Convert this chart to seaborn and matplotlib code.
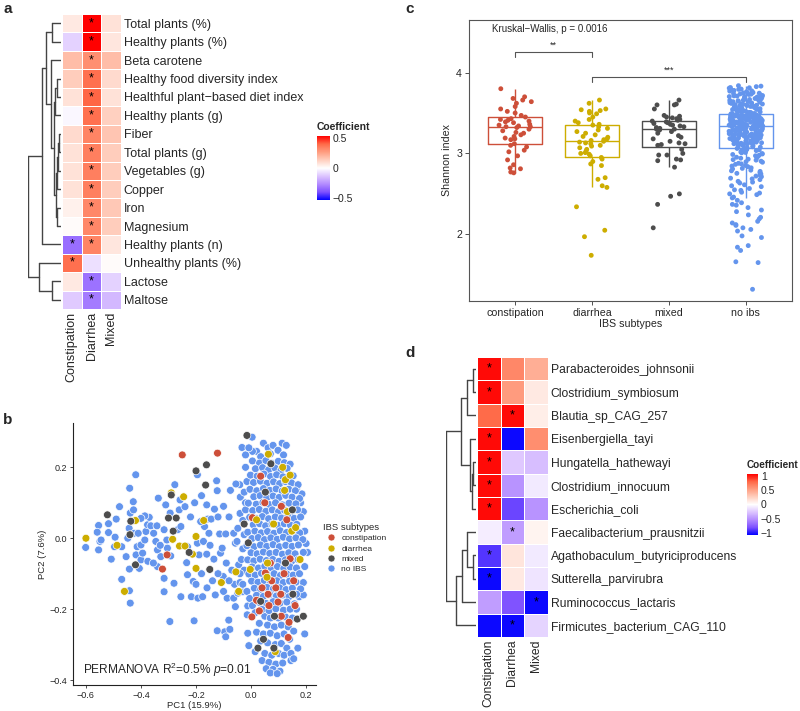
import numpy as np
import pandas as pd
import matplotlib
matplotlib.use("Agg")
import matplotlib.pyplot as plt
import matplotlib.cm as cm
from matplotlib.colors import LinearSegmentedColormap, Normalize
import seaborn as sns

# ---------------- data: panel a (diet heatmap) ----------------
subtype_cols = ["Constipation", "Diarrhea", "Mixed"]
diet_rows = ["Total plants (%)", "Healthy plants (%)", "Beta carotene",
             "Healthy food diversity index", "Healthful plant\u2212based diet index",
             "Healthy plants (g)", "Fiber", "Total plants (g)", "Vegetables (g)",
             "Copper", "Iron", "Magnesium", "Healthy plants (n)",
             "Unhealthy plants (%)", "Lactose", "Maltose"]
diet_constipation = [0.06, -0.10, 0.18, 0.14, 0.08, -0.02, 0.10, 0.08, 0.08, 0.08, 0.04, 0.01, -0.33, 0.38, 0.06, -0.12]
diet_diarrhea = [0.53, 0.53, 0.30, 0.38, 0.40, 0.38, 0.33, 0.34, 0.34, 0.34, 0.32, 0.32, 0.33, -0.07, -0.32, -0.30]
diet_mixed = [0.08, 0.07, 0.18, 0.10, 0.08, 0.13, 0.16, 0.14, 0.14, 0.14, 0.15, 0.14, 0.07, 0.01, -0.10, -0.16]
diet_stars = [["", "*", ""]] * 12 + [["*", "*", ""], ["*", "", ""], ["", "*", ""], ["", "*", ""]]
# merges: (child, child, height); leaves 0..15 top to bottom
diet_tree = [(0, 1, 9), (3, 4, 4), (17, 5, 6), (6, 7, 2.5), (19, 8, 3.5), (20, 9, 4.5),
             (10, 11, 4), (21, 22, 5.5), (18, 23, 7.5), (2, 24, 10), (16, 25, 15),
             (26, 12, 19), (14, 15, 9), (13, 28, 22), (27, 29, 33)]

# ---------------- data: panel d (species heatmap) ----------------
species_rows = ["Parabacteroides_johnsonii", "Clostridium_symbiosum", "Blautia_sp_CAG_257",
                "Eisenbergiella_tayi", "Hungatella_hathewayi", "Clostridium_innocuum",
                "Escherichia_coli", "Faecalibacterium_prausnitzii",
                "Agathobaculum_butyriciproducens", "Sutterella_parvirubra",
                "Ruminococcus_lactaris", "Firmicutes_bacterium_CAG_110"]
sp_constipation = [1.05, 1.05, 0.80, 1.05, 1.05, 1.05, 1.05, -0.08, -0.90, -1.05, -0.45, -1.05]
sp_diarrhea = [0.65, 0.55, 1.05, -1.05, -0.25, -0.50, -0.85, -0.45, 0.15, 0.12, -0.80, -1.05]
sp_mixed = [0.45, 0.12, 0.10, 0.62, -0.30, -0.10, -0.50, 0.06, -0.10, -0.12, -1.05, -0.20]
sp_stars = [["*", "", ""], ["*", "", ""], ["", "*", ""], ["*", "", ""], ["*", "", ""],
            ["*", "", ""], ["*", "", ""], ["", "*", ""], ["*", "", ""], ["*", "", ""],
            ["", "", "*"], ["", "*", ""]]
species_tree = [(0, 1, 3.5), (12, 2, 9), (4, 5, 3), (14, 6, 4.5), (3, 15, 6.5),
                (13, 16, 15.5), (8, 9, 3.5), (7, 18, 9), (19, 10, 14.5), (20, 11, 20.5),
                (17, 21, 30)]

# ---------------- data: panel b (PCoA) ----------------
pcoa_groups = ["constipation", "diarrhea", "mixed", "no IBS"]
pcoa_noibs = [
    (-0.601, -0.026), (-0.554, 0.036), (-0.559, 0.017), (-0.549, -0.009), (-0.554, -0.033), (-0.545, -0.005),
    (-0.518, 0.016), (-0.518, 0.041), (-0.508, -0.059), (-0.496, -0.024), (-0.494, 0.003), (-0.490, 0.054),
    (-0.478, 0.089), (-0.470, -0.024), (-0.470, -0.116), (-0.454, -0.052), (-0.448, 0.000), (-0.443, 0.028),
    (-0.441, 0.141), (-0.439, 0.071), (-0.427, 0.080), (-0.428, 0.103), (-0.419, 0.179), (-0.424, 0.014),
    (-0.418, -0.047), (-0.414, -0.024), (-0.400, -0.019), (-0.400, -0.061), (-0.394, -0.042), (-0.406, -0.085),
    (-0.439, -0.183), (-0.442, -0.148), (-0.442, -0.087), (-0.386, -0.005), (-0.382, 0.019), (-0.376, 0.038),
    (-0.370, 0.059), (-0.364, 0.035), (-0.386, 0.063), (-0.400, 0.056), (-0.410, 0.014), (-0.354, 0.014),
    (-0.346, -0.009), (-0.340, -0.033), (-0.342, 0.035), (-0.337, 0.113), (-0.316, 0.024), (-0.310, 0.094),
    (-0.306, -0.005), (-0.304, -0.028), (-0.292, -0.050), (-0.328, -0.052), (-0.340, -0.080), (-0.316, -0.113),
    (-0.316, -0.151), (-0.294, 0.071), (-0.277, 0.151), (-0.267, 0.024), (-0.255, 0.033), (-0.261, 0.080),
    (-0.258, 0.108), (-0.240, 0.089), (-0.234, -0.069), (-0.231, -0.024), (-0.231, -0.103), (-0.217, -0.165),
    (-0.210, -0.122), (-0.255, -0.165), (-0.280, -0.127), (-0.295, -0.235), (-0.207, -0.233), (-0.193, -0.169),
    (-0.176, -0.165), (-0.195, -0.014), (-0.189, -0.047), (-0.173, -0.009), (-0.169, 0.033), (-0.183, 0.047),
    (-0.161, 0.094), (-0.157, 0.054), (-0.153, 0.014), (-0.149, -0.020), (-0.161, -0.045), (-0.133, 0.082),
    (-0.145, 0.054), (-0.135, -0.059), (-0.125, 0.162), (-0.123, 0.134), (-0.114, 0.012), (-0.111, -0.042),
    (-0.105, -0.028), (-0.101, -0.108), (-0.092, 0.012), (-0.075, 0.135), (-0.063, 0.014), (-0.057, -0.014),
    (-0.051, -0.009), (-0.048, 0.028), (-0.041, 0.151), (-0.039, 0.116), (-0.033, 0.256), (-0.055, 0.153),
    (-0.195, 0.179), (-0.087, -0.169), (-0.081, -0.231), (-0.096, -0.264), (-0.123, -0.261), (-0.077, -0.257),
    (-0.092, -0.278), (-0.063, -0.169), (-0.048, -0.155), (-0.057, -0.193), (-0.030, -0.151), (-0.012, -0.191),
    (-0.012, -0.268), (-0.008, -0.303), (-0.014, -0.216), (0.004, 0.285),
    (-0.090, -0.070), (-0.070, -0.090), (-0.045, -0.075), (-0.060, -0.130), (-0.040, -0.125), (-0.080, -0.120),
    (-0.100, -0.150), (-0.120, -0.100), (-0.140, -0.120), (-0.160, -0.140), (-0.130, -0.160), (-0.180, -0.100),
    (-0.200, -0.130), (-0.205, 0.100), (-0.180, 0.120), (-0.220, 0.060), (-0.120, 0.060), (-0.100, 0.090),
    (-0.080, 0.060), (-0.040, 0.070), (-0.020, 0.100), (-0.375, -0.065), (-0.355, -0.070), (-0.330, -0.020),
    # around the dense cluster
    (0.020, 0.245), (0.045, 0.268), (0.062, 0.255), (0.080, 0.262), (0.098, 0.248), (0.113, 0.268),
    (0.128, 0.262), (0.118, 0.235), (0.070, 0.238), (0.035, 0.230), (0.005, 0.245), (-0.020, 0.200),
    (-0.015, 0.160), (-0.025, 0.130), (-0.020, 0.080), (-0.030, 0.050), (-0.025, 0.010), (-0.030, -0.030),
    (-0.035, -0.060), (-0.025, -0.090), (-0.040, -0.100), (-0.030, -0.130), (-0.015, -0.150), (-0.005, -0.170),
    (0.005, -0.190), (0.015, -0.210), (-0.020, 0.235), (-0.008, 0.255),
    (0.165, 0.140), (0.185, 0.125), (0.190, 0.075), (0.180, 0.100), (0.195, 0.020), (0.200, -0.015),
    (0.205, -0.040), (0.195, -0.080), (0.190, -0.125), (0.175, -0.165), (0.165, -0.200), (0.190, -0.160),
    (0.050, -0.220), (0.070, -0.225), (0.100, -0.225), (0.125, -0.222), (0.150, -0.225), (0.030, -0.240),
    (0.060, -0.245), (0.085, -0.250), (0.110, -0.245), (0.135, -0.250), (0.155, -0.262), (0.020, -0.265),
    (0.045, -0.270), (0.070, -0.268), (0.095, -0.275), (0.120, -0.270), (0.140, -0.285), (0.195, -0.270),
    (0.035, -0.290), (0.060, -0.295), (0.088, -0.300), (0.110, -0.297), (0.130, -0.310), (0.015, -0.320),
    (0.050, -0.325), (0.075, -0.330), (0.100, -0.325), (0.120, -0.330), (0.145, -0.325), (0.040, -0.345),
    (0.065, -0.350), (0.090, -0.355), (0.115, -0.352), (0.145, -0.345), (0.055, -0.368), (0.080, -0.370),
    (0.105, -0.375), (0.070, -0.380), (0.095, -0.382), (0.155, -0.340), (0.170, -0.310),
    # dense cluster
    (0.005, 0.218), (0.031, 0.212), (0.054, 0.219), (0.077, 0.211), (0.099, 0.217), (0.121, 0.213), (0.142, 0.209),
    (0.016, 0.196), (0.042, 0.199), (0.064, 0.193), (0.087, 0.198), (0.109, 0.192), (0.131, 0.197),
    (-0.002, 0.178), (0.022, 0.175), (0.047, 0.181), (0.071, 0.174), (0.093, 0.179), (0.116, 0.173), (0.153, 0.176),
    (0.009, 0.157), (0.034, 0.161), (0.058, 0.155), (0.082, 0.159), (0.104, 0.154), (0.125, 0.160), (0.147, 0.156), (0.171, 0.151),
    (-0.004, 0.138), (0.021, 0.134), (0.045, 0.140), (0.068, 0.135), (0.091, 0.139), (0.113, 0.133), (0.137, 0.138), (0.161, 0.134),
    (0.010, 0.117), (0.033, 0.120), (0.057, 0.114), (0.080, 0.119), (0.102, 0.115), (0.126, 0.121), (0.149, 0.116), (0.176, 0.112),
    (-0.010, 0.099), (0.019, 0.096), (0.043, 0.101), (0.066, 0.095), (0.089, 0.100), (0.114, 0.094), (0.138, 0.099), (0.163, 0.097),
    (0.006, 0.078), (0.030, 0.081), (0.054, 0.076), (0.077, 0.080), (0.100, 0.075), (0.122, 0.079), (0.145, 0.074), (0.169, 0.080),
    (-0.005, 0.059), (0.018, 0.056), (0.041, 0.061), (0.064, 0.055), (0.088, 0.060), (0.111, 0.057), (0.134, 0.062), (0.157, 0.056), (0.180, 0.060),
    (0.008, 0.038), (0.031, 0.041), (0.053, 0.035), (0.076, 0.040), (0.098, 0.036), (0.121, 0.041), (0.143, 0.037), (0.166, 0.039),
    (-0.012, 0.017), (0.014, 0.020), (0.037, 0.015), (0.060, 0.019), (0.083, 0.014), (0.106, 0.021), (0.129, 0.016), (0.152, 0.019), (0.177, 0.015),
    (0.003, -0.001), (0.026, 0.002), (0.049, -0.004), (0.072, 0.001), (0.095, -0.003), (0.117, 0.003), (0.140, -0.002), (0.163, 0.001), (0.188, -0.004),
    (-0.015, -0.021), (0.011, -0.024), (0.034, -0.019), (0.057, -0.023), (0.080, -0.018), (0.103, -0.024), (0.126, -0.020), (0.149, -0.023), (0.172, -0.019),
    (0.000, -0.041), (0.022, -0.044), (0.045, -0.039), (0.068, -0.043), (0.091, -0.040), (0.114, -0.045), (0.137, -0.041), (0.160, -0.044), (0.190, -0.040),
    (-0.012, -0.061), (0.010, -0.064), (0.033, -0.059), (0.056, -0.063), (0.079, -0.060), (0.102, -0.065), (0.125, -0.061), (0.148, -0.064), (0.171, -0.060),
    (0.004, -0.081), (0.027, -0.084), (0.050, -0.079), (0.073, -0.083), (0.096, -0.080), (0.119, -0.085), (0.142, -0.081), (0.165, -0.084),
    (-0.008, -0.101), (0.015, -0.104), (0.038, -0.099), (0.061, -0.103), (0.084, -0.100), (0.107, -0.105), (0.130, -0.101), (0.153, -0.104), (0.176, -0.100),
    (0.002, -0.121), (0.025, -0.124), (0.048, -0.119), (0.071, -0.123), (0.094, -0.120), (0.117, -0.125), (0.140, -0.121), (0.163, -0.124),
    (0.012, -0.141), (0.035, -0.144), (0.058, -0.139), (0.081, -0.143), (0.104, -0.140), (0.127, -0.145), (0.150, -0.141), (0.180, -0.143),
    (0.020, -0.161), (0.045, -0.164), (0.068, -0.159), (0.092, -0.163), (0.115, -0.160), (0.138, -0.165), (0.165, -0.158),
    (0.030, -0.181), (0.055, -0.184), (0.080, -0.179), (0.105, -0.183), (0.130, -0.180), (0.158, -0.185),
    (0.040, -0.201), (0.065, -0.204), (0.090, -0.199), (0.118, -0.203), (0.142, -0.200),
]
pcoa_constipation = [(-0.250, 0.235), (-0.122, 0.240), (0.035, 0.175), (0.005, 0.058), (0.050, 0.100),
                     (-0.322, -0.087), (-0.305, -0.047), (0.003, -0.222), (0.065, -0.190), (0.040, -0.140),
                     (0.098, -0.180), (0.138, -0.237), (0.135, -0.280), (0.052, -0.098), (0.075, -0.120),
                     (0.142, -0.058), (0.130, 0.052), (0.062, -0.158), (0.108, -0.158), (0.030, -0.205),
                     (0.020, -0.175), (0.090, -0.140), (0.120, -0.100), (0.155, -0.120), (0.110, 0.090),
                     (0.070, -0.070), (0.110, -0.220), (0.160, -0.190)]
pcoa_diarrhea = [(-0.600, 0.000), (-0.487, -0.020), (-0.460, -0.150), (-0.420, 0.050), (-0.290, 0.128),
                 (-0.245, 0.117), (-0.285, -0.003), (-0.260, -0.022), (-0.240, -0.022), (-0.213, -0.045),
                 (-0.200, -0.085), (-0.200, 0.005), (-0.172, 0.050), (-0.108, -0.125), (-0.055, -0.095),
                 (-0.045, -0.150), (-0.003, -0.088), (0.063, 0.237), (0.125, 0.165), (0.142, 0.178),
                 (0.132, 0.075), (0.122, 0.135), (0.148, 0.020), (0.162, 0.030), (0.178, -0.060),
                 (0.088, -0.320), (0.058, -0.110), (0.082, 0.040), (0.020, 0.052), (0.060, -0.070),
                 (0.115, 0.200)]
pcoa_mixed = [(-0.015, 0.290), (-0.162, 0.207), (-0.200, 0.190), (-0.165, 0.150), (-0.290, 0.122),
              (-0.522, 0.066), (-0.437, 0.048), (-0.440, 0.010), (-0.300, 0.057), (-0.272, 0.057),
              (-0.283, 0.020), (-0.225, -0.040), (-0.150, -0.088), (-0.420, -0.075), (-0.025, 0.040),
              (-0.010, -0.013), (0.072, 0.210), (0.052, 0.130), (0.150, 0.080), (0.125, -0.070),
              (0.152, -0.158), (0.168, -0.228), (0.190, -0.220), (0.085, -0.220), (0.083, -0.310),
              (0.045, -0.285), (0.025, -0.310), (0.035, -0.178)]

# ---------------- data: panel c (Shannon index) ----------------
shannon_order = ["constipation", "diarrhea", "mixed", "no ibs"]
shannon_constipation = [3.80, 3.70, 3.68, 3.66, 3.64, 3.62, 3.58, 3.55, 3.52, 3.50, 3.47, 3.45, 3.43, 3.42,
                        3.41, 3.40, 3.39, 3.38, 3.36, 3.35, 3.34, 3.33, 3.33, 3.32, 3.30, 3.28, 3.26, 3.25,
                        3.23, 3.21, 3.19, 3.18, 3.17, 3.12, 3.10, 3.08, 3.04, 3.02, 2.97, 2.92, 2.86, 2.82,
                        2.81, 2.77, 2.76]
shannon_diarrhea = [3.66, 3.62, 3.55, 3.54, 3.53, 3.52, 3.50, 3.49, 3.45, 3.42, 3.40, 3.38, 3.36, 3.35,
                    3.33, 3.31, 3.29, 3.27, 3.25, 3.23, 3.21, 3.20, 3.18, 3.17, 3.16, 3.15, 3.14, 3.13,
                    3.12, 3.10, 3.09, 3.07, 3.05, 3.03, 3.01, 3.00, 2.99, 2.97, 2.95, 2.93, 2.90, 2.87,
                    2.85, 2.70, 2.68, 2.60, 2.58, 2.34, 2.05, 1.97, 1.74]
shannon_mixed = [3.66, 3.61, 3.60, 3.60, 3.55, 3.47, 3.46, 3.45, 3.44, 3.43, 3.42, 3.41, 3.40, 3.39,
                 3.38, 3.37, 3.36, 3.35, 3.34, 3.33, 3.32, 3.31, 3.30, 3.30, 3.29, 3.27, 3.25, 3.22,
                 3.20, 3.18, 3.15, 3.13, 3.12, 3.11, 3.10, 3.05, 3.00, 2.98, 2.98, 2.93, 2.92, 2.91,
                 2.83, 2.50, 2.47, 2.37, 2.08]
shannon_noibs = [3.838, 3.826, 3.815, 3.807, 3.796, 3.788, 3.779, 3.771, 3.764, 3.757, 3.749, 3.742,
                 3.736, 3.729, 3.722, 3.716, 3.709, 3.703, 3.697, 3.691, 3.685, 3.679, 3.673, 3.667,
                 3.662, 3.656, 3.651, 3.645, 3.640, 3.634, 3.629, 3.624, 3.619, 3.613, 3.608, 3.603,
                 3.598, 3.593, 3.588, 3.583, 3.578, 3.573, 3.568, 3.563, 3.558, 3.553, 3.548, 3.543,
                 3.538, 3.533, 3.528, 3.524, 3.519, 3.514, 3.509, 3.504, 3.499, 3.494, 3.489, 3.484,
                 3.832, 3.812, 3.792, 3.774, 3.753, 3.733, 3.712, 3.694, 3.676, 3.658, 3.642, 3.627,
                 3.611, 3.596, 3.581, 3.566, 3.551, 3.536, 3.521, 3.507, 3.492, 3.745, 3.705, 3.665,
                 3.625, 3.585, 3.545, 3.505,
                 3.481, 3.478, 3.476, 3.473, 3.471, 3.468, 3.466, 3.463, 3.461, 3.458, 3.456, 3.453,
                 3.451, 3.448, 3.446, 3.443, 3.441, 3.438, 3.436, 3.433, 3.431, 3.428, 3.426, 3.423,
                 3.421, 3.418, 3.416, 3.413, 3.411, 3.408, 3.406, 3.403, 3.401, 3.398, 3.396, 3.393,
                 3.391, 3.388, 3.386, 3.383, 3.381, 3.378, 3.376, 3.373, 3.371, 3.368, 3.366, 3.363,
                 3.361, 3.358, 3.356, 3.353, 3.351, 3.348, 3.346, 3.343, 3.341, 3.338,
                 3.479, 3.469, 3.459, 3.449, 3.439, 3.429, 3.419, 3.409, 3.399, 3.389, 3.379, 3.369,
                 3.359, 3.349, 3.339, 3.474, 3.444, 3.414, 3.384, 3.354, 3.464, 3.434, 3.404, 3.374,
                 3.336, 3.332, 3.328, 3.324, 3.320, 3.316, 3.312, 3.308, 3.304, 3.300, 3.296, 3.292,
                 3.288, 3.284, 3.280, 3.276, 3.272, 3.268, 3.264, 3.260, 3.256, 3.252, 3.248, 3.244,
                 3.240, 3.236, 3.232, 3.228, 3.224, 3.220, 3.216, 3.212, 3.208, 3.204, 3.200, 3.196,
                 3.192, 3.188, 3.184, 3.180, 3.176, 3.172, 3.168, 3.164, 3.160, 3.156, 3.152, 3.148,
                 3.144, 3.140, 3.136, 3.132, 3.128, 3.124, 3.120, 3.116, 3.112,
                 3.334, 3.314, 3.294, 3.274, 3.254, 3.234, 3.214, 3.194, 3.174, 3.154, 3.134, 3.114,
                 3.326, 3.286, 3.246, 3.206, 3.166, 3.126, 3.306, 3.226, 3.266, 3.186,
                 3.104, 3.095, 3.086, 3.078, 3.069, 3.061, 3.052, 3.043, 3.035, 3.026, 3.017, 3.008,
                 2.998, 2.987, 2.976, 2.965, 2.953, 2.941, 2.929, 2.917, 2.904, 2.891, 2.878, 2.865,
                 2.851, 2.837, 2.822, 2.808, 2.793, 2.778, 2.762, 2.746, 2.729, 2.712, 2.694, 2.676,
                 2.655, 2.634, 2.612, 2.589, 2.566, 2.543, 2.520, 2.510, 2.490, 2.460, 2.420, 2.390,
                 2.360, 2.330, 2.280, 2.240, 2.210, 2.160, 2.140, 2.110, 2.080, 2.060, 1.980, 1.840,
                 1.800, 1.660, 1.650, 1.320,
                 3.099, 3.082, 3.064, 3.047, 3.030, 3.012, 2.993, 2.971, 2.947, 2.923, 2.897, 2.871,
                 2.844, 2.815, 2.785, 2.754, 2.720, 2.685, 2.645, 2.600, 2.550, 2.500, 2.450, 2.370,
                 2.300, 2.190, 2.120, 2.040, 1.960, 1.860]

group_colors = ["#CD4F39", "#CDAD00", "#4D4D4D", "#6495ED"]

# ---------------- style ----------------
sns.set_style("white")
plt.rcParams["font.family"] = ["Liberation Sans", "DejaVu Sans"]
plt.rcParams["mathtext.fontset"] = "custom"
plt.rcParams["mathtext.rm"] = "Liberation Sans"
plt.rcParams["mathtext.it"] = "Liberation Sans:italic"

coef_cmap = LinearSegmentedColormap.from_list("coef", [
    (0.0, "#0000FF"), (0.125, "#7E51FF"), (0.25, "#B38BFF"), (0.375, "#DCC4FF"),
    (0.5, "#FFFFFF"), (0.625, "#FFCFBF"), (0.75, "#FF9E81"), (0.875, "#FF6947"), (1.0, "#FF0000")])

W, H = 800, 711
fig = plt.figure(figsize=(W / 100, H / 100), dpi=100)


def px_axes(x0, y0, x1, y1):
    # axes from pixel box (top-left origin)
    return fig.add_axes([x0 / W, 1 - y1 / H, (x1 - x0) / W, (y1 - y0) / H])


def draw_dendrogram(ax, merges, n):
    pos = {i: i + 0.5 for i in range(n)}
    hgt = {i: 0.0 for i in range(n)}
    for k, (a, b, h) in enumerate(merges):
        for c in (a, b):
            ax.plot([hgt[c], h], [pos[c], pos[c]], color="#444444", lw=1)
        ax.plot([h, h], [pos[a], pos[b]], color="#444444", lw=1)
        pos[n + k] = (pos[a] + pos[b]) / 2
        hgt[n + k] = h
    ax.set_ylim(n, 0)
    ax.set_xlim(max(hgt.values()), 0)
    ax.axis("off")


def draw_heatmap(ax, values, rows, stars, vlim, fs):
    df = pd.DataFrame(values, index=rows, columns=subtype_cols)
    sns.heatmap(df, ax=ax, cmap=coef_cmap, vmin=-vlim, vmax=vlim, cbar=False,
                linewidths=0.6, linecolor="white", annot=np.array(stars), fmt="",
                annot_kws={"fontsize": 9, "color": "black"})
    ax.yaxis.tick_right()
    ax.set_yticklabels(rows, rotation=0, fontsize=fs)
    ax.set_xticklabels(subtype_cols, rotation=90, fontsize=fs)
    ax.tick_params(axis="both", length=0, pad=2)
    ax.set_xlabel("")
    ax.set_ylabel("")


def draw_colorbar(cax, vlim, ticks, labels):
    cb = fig.colorbar(cm.ScalarMappable(norm=Normalize(-vlim, vlim), cmap=coef_cmap), cax=cax, ticks=ticks)
    cb.outline.set_visible(False)
    cax.set_yticklabels(labels)
    cax.yaxis.set_ticks_position("both")
    cax.tick_params(axis="y", direction="in", length=3, width=0.8, color="white", labelsize=7.5, pad=2)
    cax.yaxis.set_tick_params(labelright=True, labelleft=False)


# ---------------- panel a ----------------
diet_values = np.column_stack([diet_constipation, diet_diarrhea, diet_mixed])
draw_dendrogram(px_axes(28, 14, 61, 309), diet_tree, len(diet_rows))
draw_heatmap(px_axes(62, 14, 121, 309), diet_values, diet_rows, diet_stars, 0.53, 9)
draw_colorbar(px_axes(317, 136, 330, 200), 0.53, [-0.5, 0, 0.5], ["\u22120.5", "0", "0.5"])
fig.text(317 / W, 1 - 132 / H, "Coefficient", fontsize=7.5, fontweight="bold", ha="left", va="bottom")

# ---------------- panel d ----------------
sp_values = np.column_stack([sp_constipation, sp_diarrhea, sp_mixed])
draw_dendrogram(px_axes(446, 357, 476, 637), species_tree, len(species_rows))
draw_heatmap(px_axes(477, 357, 548, 637), sp_values, species_rows, sp_stars, 1.08, 8.7)
draw_colorbar(px_axes(747, 474, 758, 535), 1.08, [-1, -0.5, 0, 0.5, 1],
              ["\u22121", "\u22120.5", "0", "0.5", "1"])
fig.text(747 / W, 1 - 470 / H, "Coefficient", fontsize=7.2, fontweight="bold", ha="left", va="bottom")

# ---------------- panel b ----------------
frames = []
for name, pts in [("no IBS", pcoa_noibs), ("constipation", pcoa_constipation),
                  ("diarrhea", pcoa_diarrhea), ("mixed", pcoa_mixed)]:
    arr = np.array(pts)
    frames.append(pd.DataFrame({"PC1": arr[:, 0], "PC2": arr[:, 1], "group": name}))
df_b = pd.concat(frames, ignore_index=True)

ax_b = px_axes(73, 423, 316, 685)
sns.scatterplot(data=df_b, x="PC1", y="PC2", hue="group", hue_order=pcoa_groups,
                palette=group_colors, s=32, edgecolor="white", linewidth=0.5, ax=ax_b)
ax_b.set_xlim(-0.647, 0.236)
ax_b.set_ylim(-0.414, 0.325)
ax_b.set_xticks([-0.6, -0.4, -0.2, 0.0, 0.2])
ax_b.set_yticks([-0.4, -0.2, 0.0, 0.2])
ax_b.set_xticklabels(["\u22120.6", "\u22120.4", "\u22120.2", "0.0", "0.2"])
ax_b.set_yticklabels(["\u22120.4", "\u22120.2", "0.0", "0.2"])
ax_b.tick_params(labelsize=6.5, length=2.5, width=0.6, color="#333333", pad=1.5, bottom=True, left=True)
for side in ["top", "right"]:
    ax_b.spines[side].set_visible(False)
for side in ["left", "bottom"]:
    ax_b.spines[side].set_color("#222222")
    ax_b.spines[side].set_linewidth(0.8)
ax_b.set_xlabel("PC1 (15.9%)", fontsize=6.8, labelpad=1)
ax_b.set_ylabel("PC2 (7.6%)", fontsize=6.8, labelpad=2)
ax_b.text(-0.61, -0.37, r"PERMANOVA R$^2$=0.5% $p$=0.01", fontsize=8.6, ha="left", va="center")
leg = ax_b.legend(title="IBS subtypes", loc="upper left", bbox_to_anchor=(323 / W, 1 - 523 / H),
                  bbox_transform=fig.transFigure, frameon=False, fontsize=6, title_fontsize=6.8,
                  markerscale=0.9, handletextpad=0.2, labelspacing=0.3, borderpad=0, borderaxespad=0,
                  alignment="left")

# ---------------- panel c ----------------
df_c = pd.DataFrame({
    "subtype": (["constipation"] * len(shannon_constipation) + ["diarrhea"] * len(shannon_diarrhea)
                + ["mixed"] * len(shannon_mixed) + ["no ibs"] * len(shannon_noibs)),
    "shannon": shannon_constipation + shannon_diarrhea + shannon_mixed + shannon_noibs,
})
ax_c = px_axes(469, 20, 792, 301)
sns.boxplot(data=df_c, x="subtype", y="shannon", hue="subtype", order=shannon_order,
            hue_order=shannon_order, palette=group_colors, fill=False, width=0.7,
            showfliers=False, showcaps=False, linewidth=1.0, legend=False, ax=ax_c)
np.random.seed(7)
sns.stripplot(data=df_c, x="subtype", y="shannon", hue="subtype", order=shannon_order,
              hue_order=shannon_order, palette=group_colors, jitter=0.22, size=3.5,
              linewidth=0, legend=False, ax=ax_c, zorder=3)
ax_c.set_xlim(-0.6, 3.6)
ax_c.set_ylim(1.175, 4.65)
ax_c.set_yticks([2, 3, 4])
ax_c.tick_params(labelsize=7.7, length=3, width=0.6, color="#333333", pad=2, bottom=True, left=True)
for side in ax_c.spines.values():
    side.set_color("#555555")
    side.set_linewidth(0.8)
ax_c.set_xlabel("IBS subtypes", fontsize=7.7, labelpad=1)
ax_c.set_ylabel("Shannon index", fontsize=7.7, labelpad=3)
ax_c.text(-0.3, 4.54, "Kruskal\u2212Wallis, p = 0.0016", fontsize=7, ha="left", va="center")
ax_c.plot([0, 0, 1, 1], [4.19, 4.255, 4.255, 4.19], color="#555555", lw=0.8)
ax_c.text(0.5, 4.34, "**", fontsize=6.5, ha="center", va="center")
ax_c.plot([1, 1, 3, 3], [3.88, 3.95, 3.95, 3.88], color="#555555", lw=0.8)
ax_c.text(2.0, 4.03, "***", fontsize=6.5, ha="center", va="center")

# ---------------- panel letters ----------------
for letter, (x, y) in {"a": (3, 9), "b": (3, 420), "c": (405, 9), "d": (405, 353)}.items():
    fig.text(x / W, 1 - y / H, letter, fontsize=11, fontweight="bold", ha="left", va="center")

fig.savefig("out.png", dpi=100)
